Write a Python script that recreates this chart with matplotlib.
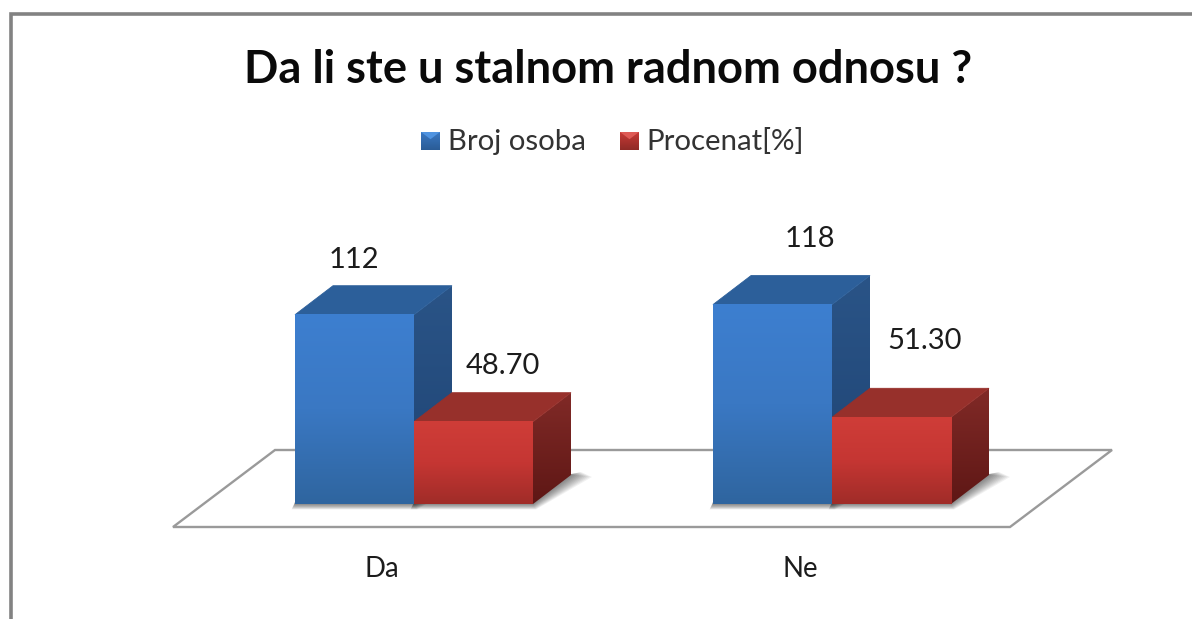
import numpy as np
import matplotlib
matplotlib.use("Agg")
import matplotlib.pyplot as plt
from matplotlib.colors import LinearSegmentedColormap
from matplotlib.patches import Polygon

plt.rcParams['font.family'] = ['Lato', 'DejaVu Sans']

# Data
categories = ['Da', 'Ne']
series_names = ['Broj osoba', 'Procenat[%]']
broj_osoba = [112, 118]
procenat = [48.70, 51.30]
label_broj = ['112', '118']
label_procenat = ['48.70', '51.30']
title_text = 'Da li ste u stalnom radnom odnosu ?'

W, H = 1192, 619
PX_PER_CAT = 418.0
PX_PER_UNIT = 1.69
X0_PX, Y0_PX = 414.0, 504.0

fig = plt.figure(figsize=(W / 100, H / 100), dpi=100, facecolor='white')
ax = fig.add_axes([0, 0, 1, 1])
ax.axis('off')


def dx(px):
    return px / PX_PER_CAT


def dy(px):
    return px / PX_PER_UNIT


def fx(px):
    return (px - X0_PX) / PX_PER_CAT


def fy(py):
    return (Y0_PX - py) / PX_PER_UNIT


BAR_W = dx(119)
DEPTH_X, DEPTH_Y = dx(38), dy(29)

# Frame of the chart area
ax.plot([fx(11), fx(11), fx(W + 5)], [fy(H + 5), fy(13.5), fy(13.5)],
        color='#828282', lw=2.6, solid_joinstyle='miter', zorder=1)

# Floor
floor = [(fx(173), fy(527)), (fx(1010), fy(527)), (fx(1112), fy(450)), (fx(275), fy(450))]
ax.add_patch(Polygon(floor, closed=True, facecolor='white', edgecolor='#9a9a9a', lw=1.7, zorder=2))


def gradient(x0, x1, y0, y1, colors, clip=None, z=5):
    cmap = LinearSegmentedColormap.from_list('g', colors)
    grad = np.linspace(0, 1, 256).reshape(-1, 1)
    im = ax.imshow(grad, extent=(x0, x1, y0, y1), cmap=cmap, aspect='auto',
                   origin='upper', zorder=z, interpolation='bilinear')
    if clip is not None:
        im.set_clip_path(clip)
    return im


def shadow(x, w):
    # soft floor shadow around the bar base
    for i in range(10, 0, -1):
        pts = [(x - dx(i * 0.35), -dy(i * 0.55)), (x + w + dx(i * 0.3), -dy(i * 0.55)),
               (x + w + DEPTH_X + dx(i * 2.1), DEPTH_Y - dy(i * 0.2)),
               (x + w + DEPTH_X + dx(i * 1.0), DEPTH_Y + dy(i * 0.3)),
               (x + w + DEPTH_X, DEPTH_Y + dy(1)), (x, dy(2))]
        ax.add_patch(Polygon(pts, closed=True, facecolor='black', edgecolor='none',
                             alpha=0.055, zorder=3))


def bar3d(x, v, front, top, side):
    shadow(x, BAR_W)
    # right side
    side_pts = [(x + BAR_W, 0), (x + BAR_W + DEPTH_X, DEPTH_Y),
                (x + BAR_W + DEPTH_X, v + DEPTH_Y), (x + BAR_W, v)]
    sp = Polygon(side_pts, closed=True, facecolor='none', edgecolor='none')
    ax.add_patch(sp)
    gradient(x + BAR_W, x + BAR_W + DEPTH_X, 0, v + DEPTH_Y, side, clip=sp, z=4.2)
    # top
    ax.add_patch(Polygon([(x, v), (x + BAR_W, v), (x + BAR_W + DEPTH_X, v + DEPTH_Y),
                          (x + DEPTH_X, v + DEPTH_Y)], closed=True,
                         facecolor=top, edgecolor=top, lw=0.6, zorder=4.3))
    # front
    gradient(x, x + BAR_W, 0, v, front, z=4.4)


BLUE_FRONT = ['#3d7fd0', '#3a78c3', '#2f659f']
BLUE_TOP = '#2c5f9a'
BLUE_SIDE = ['#2a5487', '#1f4474']
RED_FRONT = ['#cf3d38', '#c53633', '#a02c28']
RED_TOP = '#97302b'
RED_SIDE = ['#812a27', '#5e1715']

for i in range(len(categories)):
    bar3d(i - BAR_W, broj_osoba[i], BLUE_FRONT, BLUE_TOP, BLUE_SIDE)
    bar3d(i, procenat[i], RED_FRONT, RED_TOP, RED_SIDE)

FS = 21
COL = '#1c1c1c'
# Value labels: offsets differ per category, as in the reference
broj_off_x = [-60, -22]
broj_off_y = [26, 37]
proc_off_x = [89, 93]
proc_off_y = [27, 47]
for i in range(len(categories)):
    ax.text(i + dx(broj_off_x[i]), broj_osoba[i] + DEPTH_Y + dy(broj_off_y[i]), label_broj[i],
            ha='center', va='center', fontsize=FS, color=COL, zorder=8)
    ax.text(i + dx(proc_off_x[i]), procenat[i] + DEPTH_Y + dy(proc_off_y[i]), label_procenat[i],
            ha='center', va='center', fontsize=FS, color=COL, zorder=8)
    # Category labels
    ax.text(i - dx(32), fy(569), categories[i],
            ha='center', va='center', fontsize=19.8, color=COL, zorder=8)

# Title
ax.text(fx(608), fy(70), title_text, ha='center', va='center', fontsize=32.6,
        fontweight='bold', color='#0a0a0a', zorder=8)


# Legend swatches and names
def swatch(px, cols, mid):
    x, y = fx(px), fy(150)
    w, h = dx(19), dy(18)
    gradient(x, x + w, y, y + h, cols, z=8)
    ax.add_patch(Polygon([(x, y + h), (x + w, y + h), (x + w / 2, y + h * 0.6)],
                         closed=True, facecolor=mid, edgecolor='none', zorder=8.1))


swatch(421, ['#3a78c3', '#2a5c96'], '#4f93e0')
swatch(620, ['#c73a36', '#8f2a26'], '#de5a55')
ax.text(fx(448), fy(142), series_names[0], ha='left', va='center', fontsize=21.2, color='#333333', zorder=8)
ax.text(fx(646), fy(142), series_names[1], ha='left', va='center', fontsize=21.2, color='#333333', zorder=8)

ax.set_xlim(-X0_PX / PX_PER_CAT, (W - X0_PX) / PX_PER_CAT)
ax.set_ylim(-(H - Y0_PX) / PX_PER_UNIT, Y0_PX / PX_PER_UNIT)
fig.savefig('out.png', dpi=100, facecolor='white')
